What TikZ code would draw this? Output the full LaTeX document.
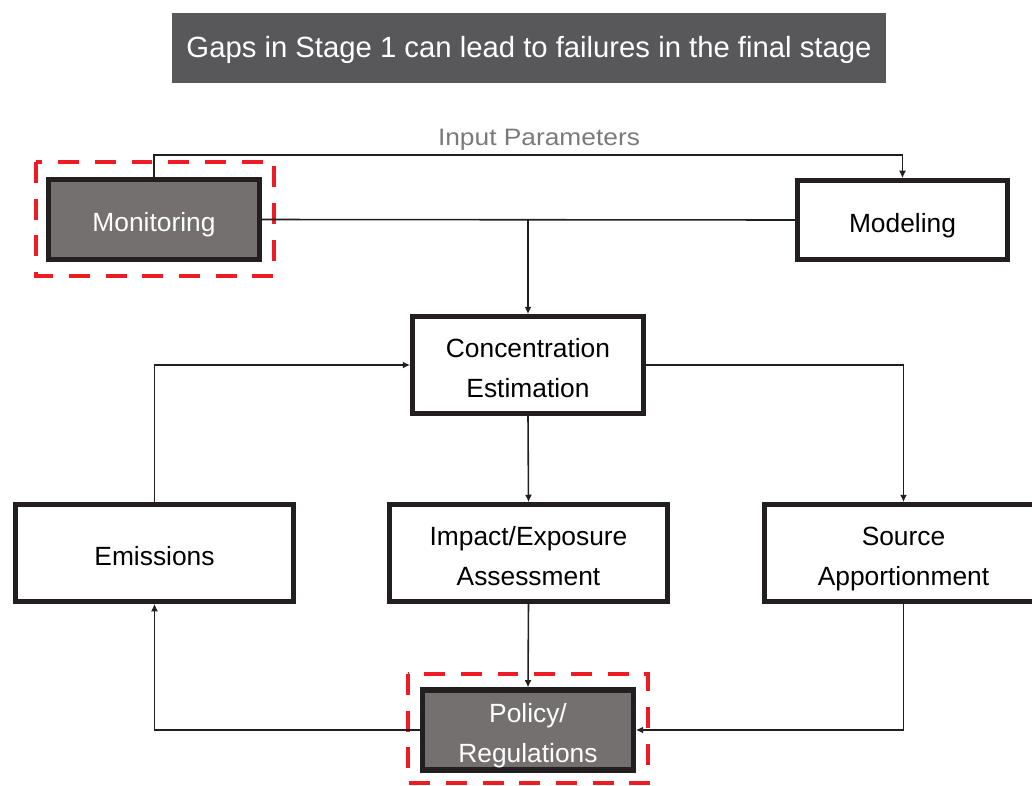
\documentclass[tikz,border=0pt]{standalone}
\usepackage{fontspec}
\setmainfont{Liberation Sans}
\usetikzlibrary{arrows.meta,positioning}
\definecolor{boxgray}{HTML}{757070}
\definecolor{titlegray}{HTML}{58585A}
\definecolor{gapred}{HTML}{ED1C24}
\definecolor{linedark}{HTML}{231F20}
\definecolor{paramgray}{HTML}{7A7A7A}
\newcommand{\boxtext}[2][2.55pt]{\raisebox{-#1}[\height][\depth]{\begin{tabular}{@{}c@{}}#2\end{tabular}}}

\begin{document}
\begin{tikzpicture}[x=0.02cm, y=-0.02cm,
        stage/.style = {draw=linedark, rectangle, line width=3pt, fill=white,
            inner sep=0pt, font=\fontsize{15}{22.7}\selectfont},
        gapbox/.style = {stage, fill=boxgray, text=white},
        gapframe/.style = {draw=gapred, line width=2.3pt, dash pattern=on 11.9pt off 9pt},
        link/.style = {draw=linedark, line width=0.9pt},
        flow/.style = {link, -{Latex[length=4.2pt,width=4pt]}},]
        \useasboundingbox (0,0) rectangle (1032,785);
        \clip (0,0) rectangle (1032,785);

        \node[fill=titlegray, text=white, minimum width=14.28cm, minimum height=1.4cm, inner sep=0pt,
            font=\fontsize{16.66}{20}\selectfont] (title) at (529,47.7) {\boxtext[1.6pt]{Gaps in Stage 1 can lead to failures in the final stage}};

        \node[gapbox, minimum width=4.21cm, minimum height=1.59cm] (mon) at (154,219.5) {\boxtext{Monitoring}};
        \node[stage, minimum width=4.19cm, minimum height=1.57cm] (mod) at (902.5,220) {\boxtext{Modeling}};
        \node[stage, minimum width=4.61cm, minimum height=1.93cm] (conc) at (528,365) {\boxtext{Concentration\\Estimation}};
        \node[stage, minimum width=5.55cm, minimum height=1.93cm] (emis) at (154.5,553) {\boxtext{Emissions}};
        \node[stage, minimum width=5.55cm, minimum height=1.93cm] (imp) at (528.5,553) {\boxtext{Impact/Exposure\\Assessment}};
        \node[stage, minimum width=5.55cm, minimum height=1.93cm] (src) at (903.5,553) {\boxtext{Source\\Apportionment}};
        \node[gapbox, minimum width=4.21cm, minimum height=1.57cm] (pol) at (528,730) {\boxtext{Policy/\\Regulations}};

        \node[text=paramgray, inner sep=0pt, font=\fontsize{13.5}{16}\selectfont] (inp) at (539,136)
            {\boxtext[2.3pt]{\scalebox{1.11}[1]{Input Parameters}}};

        \draw[gapframe] (36,162) rectangle (274,276);
        \draw[gapframe] (408,674) rectangle (648,783);

        \coordinate (split) at (conc.north |- mon.east);
        \draw[flow] (mon.north) -- ++(0,-22) -| (mod.north);
        \draw[link] (mon.east) -- (mod.west);
        \draw[flow] (split) -- (conc.north);
        \draw[flow] (conc.east) -| (src.north);
        \draw[flow] (conc.south) -- (imp.north);
        \draw[flow] (emis.north) |- (conc.west);
        \draw[flow] (imp.south) -- (pol.north);
        \draw[flow] (src.south) |- (pol.east);
        \draw[flow] (pol.west) -| (emis.south);

\end{tikzpicture}
\end{document}
